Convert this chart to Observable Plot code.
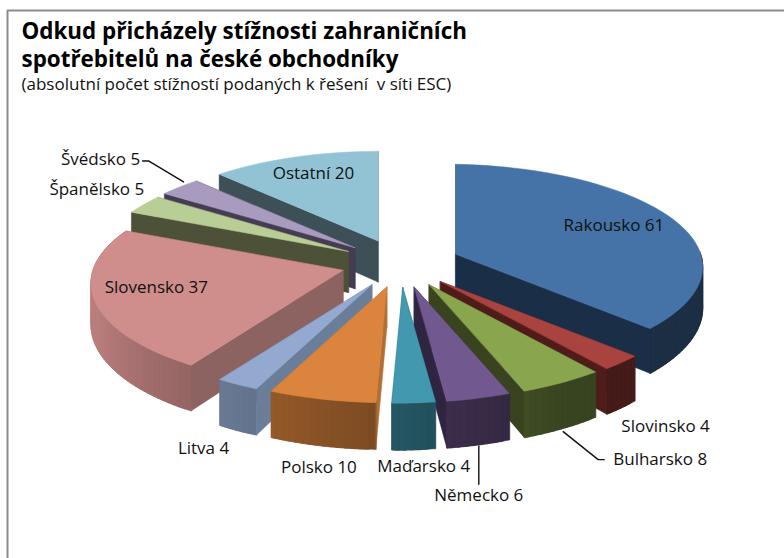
<!DOCTYPE html>
<html><head><meta charset="utf-8">
<script src="https://cdn.jsdelivr.net/npm/d3@7"></script>
<script src="https://cdn.jsdelivr.net/npm/@observablehq/plot@0.6"></script>
<style>html,body{margin:0;padding:0;background:#fff}svg{display:block}</style>
</head><body><div id="chart"></div>
<script>
const countries = ["Rakousko","Slovinsko","Bulharsko","Německo","Maďarsko","Polsko","Litva","Slovensko","Španělsko","Švédsko","Ostatní"];
const counts = [61,4,8,6,4,10,4,37,5,5,20];
const topColors = ["#4572a7","#a84340","#89a54e","#71588f","#4198af","#db843d","#93a9cf","#cf8d8b","#b9cd96","#a99bbd","#92c3d5"];
const cutColors = ["#1a2e47","#4f1c1a","#39431f","#2f2540","#215766","#b26f34","#6a7e9a","#8c6361","#4c5138","#453c53","#3d4f57"];
const titleLines = ["Odkud přicházely stížnosti zahraničních","spotřebitelů na české obchodníky"];
const subtitle = "(absolutní počet stížností podaných k řešení  v síti ESC)";
// label placement relative to each slice's mid-rim point
const labelOffsets = [[-57,8],[44,64],[98,77],[0,97],[10,64],[-3,68],[-34,64],[62,-13],[-47,-15],[-79,-27],[19,16]];
const leaderOffsets = {Bulharsko:[[1,49],[36,77],[42,77]],"Německo":[[0,48],[0,86]],"Švédsko":[[-37,-26],[-31,-26],[4,-5]]};

const W=784,H=558,cx=400,cy=263,rx=250,ry=101,explode=0.24,persp=0.126,depth=41;
const total=d3.sum(counts);
const cum=d3.cumsum(counts);
const rad=d=>d*Math.PI/180;
const slices=countries.map((name,i)=>{
  const a0=(i?cum[i-1]:0)/total*360, a1=cum[i]/total*360, mid=(a0+a1)/2;
  const ax=cx+rx*explode*Math.sin(rad(mid)), ay=cy-ry*explode*Math.cos(rad(mid));
  const at=(th,r=1,dz=0)=>{
    const sn=Math.sin(rad(th)), c=Math.cos(rad(th))*r, p=1/(1+persp*c), right=Math.max(0,sn);
    return {x:ax+rx*sn*r*p*(1-0.02*right), y:ay-ry*c*p*(1-0.04*right)+depth*p*dz};
  };
  return {name,i,a0,a1,mid,ax,ay,at,top:topColors[i],cut:cutColors[i]};
});
const pts=[];let id=0;
const poly=(list,color)=>{id++;list.forEach(p=>pts.push({x:p.x,y:p.y,id,color}));};
const rimShade=th=>th<=150?0.41:th>=250?0.9:0.41+0.49*(th-150)/100;
const arc=(s,a,b)=>{const n=Math.max(2,Math.ceil((b-a)/3)),o=[];for(let k=0;k<=n;k++)o.push(s.at(a+(b-a)*k/n));return o;};
[...slices].sort((a,b)=>Math.cos(rad(b.mid))-Math.cos(rad(a.mid))).forEach(s=>{
  const A={x:s.ax,y:s.ay}, Ad=s.at(0,0,1);
  const faces=[
    {f:Math.cos(rad(s.a0)),list:[A,s.at(s.a0),s.at(s.a0,1,1),Ad]},
    {f:Math.cos(rad(s.a1)),list:[A,s.at(s.a1),s.at(s.a1,1,1),Ad]}
  ].sort((a,b)=>b.f-a.f);
  faces.forEach(f=>poly(f.list,s.cut));
  // outer rim, shaded by angle; each strip runs under the next to hide seams
  const step=1.5;
  for(let a=s.a0;a<s.a1;a+=step){
    const b=Math.min(s.a1,a+step),m=(a+b)/2,over=Math.min(s.a1,b+2);
    if(Math.cos(rad(m))>0.02&&!(m>250&&m<294.5))continue;
    const k=rimShade(m);
    const col=d3.rgb(s.top);
    const c=d3.rgb(col.r*k,col.g*k,col.b*k).formatHex();
    const seg=arc(s,a,over);
    const low=[];for(let q=0;q<=4;q++){low.push(s.at(over+(a-over)*q/4,1,1));}
    poly([...seg,...low],c);
  }
  poly([A,...arc(s,s.a0,s.a1)],s.top);
});
const labels=slices.map((s,i)=>{
  const r=s.at(s.mid);
  return {text:`${s.name} ${counts[i]}`,x:r.x+labelOffsets[i][0],y:r.y+labelOffsets[i][1]};
});
const leaders=[];
slices.forEach(s=>{
  const o=leaderOffsets[s.name]; if(!o) return;
  const r=s.at(s.mid);
  o.forEach(d=>leaders.push({x:r.x+d[0],y:r.y+d[1],name:s.name}));
});
const F="'Open Sans', Lato, sans-serif";
const plot=Plot.plot({
  width:W,height:H,margin:0,
  x:{domain:[0,W],range:[0,W],axis:null},
  y:{domain:[0,H],range:[0,H],axis:null},
  color:{type:"identity"},
  marks:[
    Plot.line(pts,{x:"x",y:"y",z:"id",fill:"color",stroke:"color",strokeWidth:0.5,curve:"linear-closed"}),
    Plot.line(leaders,{x:"x",y:"y",z:"name",stroke:"#111",strokeWidth:1.4}),
    Plot.text(labels,{x:"x",y:"y",text:"text",fontSize:17,fontFamily:F,fill:"#111"}),
    Plot.text(titleLines,{x:()=>21,y:(d,i)=>[31,59][i],text:d=>d,textAnchor:"start",fontSize:22.4,fontWeight:700,fontFamily:F,fill:"#000"}),
    Plot.text([subtitle],{x:()=>21,y:()=>84,text:d=>d,textAnchor:"start",fontSize:17,fontFamily:F,fill:"#111"}),
    Plot.line([[7,558],[7,10],[784,10]],{x:d=>d[0],y:d=>d[1],stroke:"#8c8c8c",strokeWidth:2})
  ]
});
document.getElementById("chart").append(plot);
</script></body></html>
